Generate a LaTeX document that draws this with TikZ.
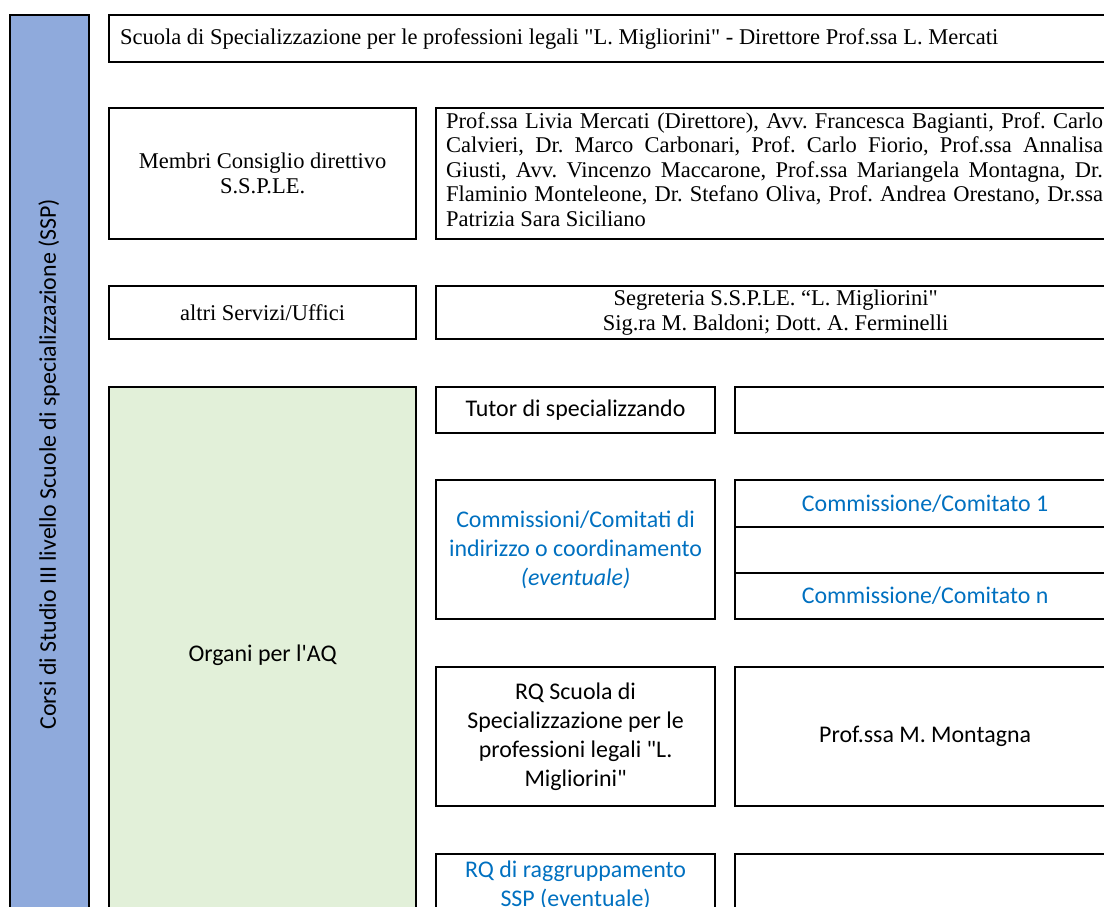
\documentclass[tikz,border=0pt]{standalone}
\usepackage{fontspec}
\setmainfont[Ligatures=TeXOff]{Liberation Serif}
\newfontfamily\calfont[Ligatures=TeXOff]{Carlito}
\definecolor{barblue}{RGB}{143,170,220}
\definecolor{aqgreen}{RGB}{226,240,217}
\definecolor{txtblue}{RGB}{0,112,192}
\begin{document}
\frenchspacing
\begin{tikzpicture}[x=1pt,y=-1pt,
  box/.style={draw=black, line width=2.2pt, rectangle, inner sep=0pt, align=center, anchor=north west},
  serif/.style={font=\frenchspacing\fontsize{22.5}{25}\selectfont},
  sans/.style={font=\calfont\fontsize{23.9}{28.8}\selectfont},
  bluetxt/.style={text=txtblue},
]
\useasboundingbox (0,0) rectangle (1104,906);
\clip (0,0) rectangle (1104,906);

% left bar
\node[box, fill=barblue, minimum width=79pt, minimum height=900pt] (bar) at (9,14) {};
\node[sans, rotate=90] (bartext) at (49,464) {Corsi di Studio III livello Scuole di specializzazione (SSP)};

% top row
\node[box, serif, minimum height=47pt, text width=984pt, inner xsep=11pt, align=left] (top) at (108,14)
  {\spaceskip=0pt\xspaceskip=0pt Scuola di Specializzazione per le professioni legali "L. Migliorini" - Direttore Prof.ssa L. Mercati};

% consiglio direttivo
\node[box, serif, minimum width=307pt, minimum height=131pt] (membri) at (108,107)
  {Membri Consiglio direttivo\\S.S.P.LE.};
\node[box, minimum width=679pt, minimum height=131pt] (lista) at (435,107) {};
\node[text width=657pt, inner sep=0pt, align=left, font=\frenchspacing\fontsize{22.5}{24.5}\selectfont] (listatext) at (774.5,169.5)
  {\spaceskip=0pt\xspaceskip=0pt
   \makebox[657pt][s]{Prof.ssa Livia Mercati (Direttore), Avv. Francesca Bagianti, Prof. Carlo}\\
   \makebox[657pt][s]{Calvieri, Dr. Marco Carbonari, Prof. Carlo Fiorio, Prof.ssa Annalisa}\\
   \makebox[657pt][s]{Giusti, Avv. Vincenzo Maccarone, Prof.ssa Mariangela Montagna, Dr.}\\
   \makebox[657pt][s]{Flaminio Monteleone, Dr. Stefano Oliva, Prof. Andrea Orestano, Dr.ssa}\\
   Patrizia Sara Siciliano};

% servizi
\node[box, serif, minimum width=307pt, minimum height=53pt] (altri) at (108,285) {altri Servizi/Uffici};
\node[box, serif, minimum width=679pt, minimum height=53pt] (segr) at (435,285)
  {Segreteria S.S.P.LE. “L. Migliorini"\\Sig.ra M. Baldoni; Dott. A. Ferminelli};

% organi AQ
\node[box, sans, fill=aqgreen, minimum width=307pt, minimum height=536pt] (organi) at (108,386) {Organi per l'AQ};

\node[box, sans, minimum width=279pt, minimum height=46pt] (tutor) at (435,386) {Tutor di specializzando};
\node[box, sans, minimum width=380pt, minimum height=46pt] (tutorr) at (734,386) {};

\node[box, sans, bluetxt, minimum width=279pt, minimum height=139pt] (comm) at (435,479)
  {Commissioni/Comitati di\\indirizzo o coordinamento\\\textit{(eventuale)}};
\node[box, sans, bluetxt, minimum width=380pt, minimum height=47pt] (comm1) at (734,479) {Commissione/Comitato 1};
\node[box, sans, minimum width=380pt, minimum height=46pt] (comm2) at (734,526) {};
\node[box, sans, bluetxt, minimum width=380pt, minimum height=46pt] (commn) at (734,572) {Commissione/Comitato n};

\node[box, sans, minimum width=279pt, minimum height=139pt] (rq) at (435,666)
  {RQ Scuola di\\Specializzazione per le\\professioni legali "L.\\Migliorini"};
\node[box, sans, minimum width=380pt, minimum height=139pt] (rqr) at (734,666) {Prof.ssa M. Montagna};

\node[box, sans, bluetxt, minimum width=279pt, minimum height=62pt] (rag) at (435,853)
  {RQ di raggruppamento\\SSP (eventuale)};
\node[box, sans, minimum width=380pt, minimum height=62pt] (ragr) at (734,853) {};
\end{tikzpicture}
\end{document}
